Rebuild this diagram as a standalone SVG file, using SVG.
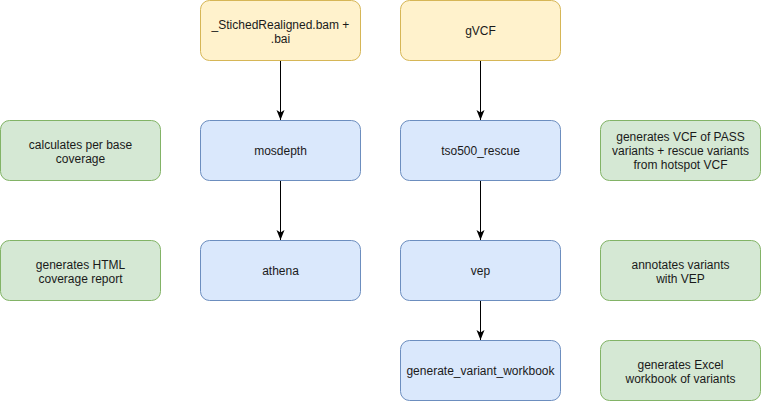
<svg xmlns="http://www.w3.org/2000/svg" width="761" height="401" viewBox="0 0 761 401">
<defs>
<style>
rect{stroke-width:1}
.y{fill:#fff2cc;stroke:#d6b656}
.b{fill:#dae8fc;stroke:#6c8ebf}
.g{fill:#d5e8d4;stroke:#82b366}
text{font-family:"Liberation Sans",Arial,Helvetica,sans-serif;font-size:12px;fill:#1a1a1a;text-anchor:middle}
.e{stroke:#000;stroke-width:1;fill:none}
</style>
<marker id="ah" markerWidth="10" markerHeight="10" viewBox="0 0 10 10" refX="10" refY="5" orient="auto" markerUnits="userSpaceOnUse">
<path d="M0,1 L10,5 L0,9 L2.5,5 Z" fill="#000" stroke="none"/>
</marker>
</defs>
<g id="connectors">
<path class="e" d="M280.5,60.5 V120" marker-end="url(#ah)"/>
<path class="e" d="M480.5,60.5 V120" marker-end="url(#ah)"/>
<path class="e" d="M280.5,180.5 V240" marker-end="url(#ah)"/>
<path class="e" d="M480.5,180.5 V240" marker-end="url(#ah)"/>
<path class="e" d="M480.5,300.5 V340" marker-end="url(#ah)"/>
</g>
<g id="bam"><rect class="y" x="200.5" y="0.5" width="160" height="60" rx="9"/><text x="280.5" y="28.5">_StichedRealigned.bam +<tspan x="280.5" dy="14">.bai</tspan></text></g>
<g id="gvcf"><rect class="y" x="400.5" y="0.5" width="160" height="60" rx="9"/><text x="480.5" y="35">gVCF</text></g>
<g id="mosdepth"><rect class="b" x="200.5" y="120.5" width="160" height="60" rx="9"/><text x="280.5" y="155">mosdepth</text></g>
<g id="tso500_rescue"><rect class="b" x="400.5" y="120.5" width="160" height="60" rx="9"/><text x="480.5" y="155">tso500_rescue</text></g>
<g id="athena"><rect class="b" x="200.5" y="240.5" width="160" height="60" rx="9"/><text x="280.5" y="275">athena</text></g>
<g id="vep"><rect class="b" x="400.5" y="240.5" width="160" height="60" rx="9"/><text x="480.5" y="275">vep</text></g>
<g id="gvw"><rect class="b" x="400.5" y="340.5" width="160" height="60" rx="9"/><text x="480.5" y="375">generate_variant_workbook</text></g>
<g id="note_mosdepth"><rect class="g" x="0.5" y="120.5" width="160" height="60" rx="9"/><text x="80.5" y="148.5">calculates per base<tspan x="80.5" dy="14">coverage</tspan></text></g>
<g id="note_athena"><rect class="g" x="0.5" y="240.5" width="160" height="60" rx="9"/><text x="80.5" y="268.5">generates HTML<tspan x="80.5" dy="14">coverage report</tspan></text></g>
<g id="note_rescue"><rect class="g" x="600.5" y="120.5" width="160" height="60" rx="9"/><text x="680.5" y="141">generates VCF of PASS<tspan x="680.5" dy="14">variants + rescue variants</tspan><tspan x="680.5" dy="14">from hotspot VCF</tspan></text></g>
<g id="note_vep"><rect class="g" x="600.5" y="240.5" width="160" height="60" rx="9"/><text x="680.5" y="268.5">annotates variants<tspan x="680.5" dy="14">with VEP</tspan></text></g>
<g id="note_gvw"><rect class="g" x="600.5" y="340.5" width="160" height="60" rx="9"/><text x="680.5" y="368.5">generates Excel<tspan x="680.5" dy="14">workbook of variants</tspan></text></g>
</svg>
